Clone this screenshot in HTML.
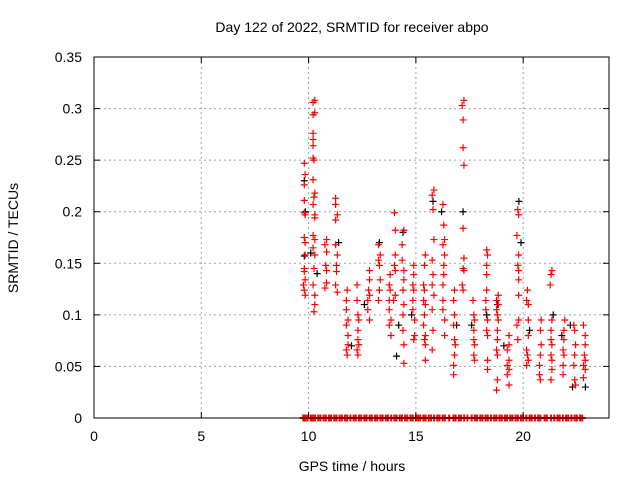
<!DOCTYPE html>
<html><head><meta charset="utf-8"><style>
body{margin:0;background:#fff}
svg{display:block;font-family:"Liberation Sans",sans-serif}
</style></head><body>
<svg id="chart" width="640" height="480" xmlns="http://www.w3.org/2000/svg">
<rect width="640" height="480" fill="#fff"/>
<g id="grid"></g>
<g id="black"></g>
<g id="red"></g>
<g id="axes"></g>
<text x="352" y="32" text-anchor="middle" font-size="14">Day 122 of 2022, SRMTID for receiver abpo</text>
<text x="352" y="471" text-anchor="middle" font-size="14">GPS time / hours</text>
<text transform="translate(18,238) rotate(-90)" text-anchor="middle" font-size="14">SRMTID / TECUs</text>
</svg>
<script>
const xTicks=[0,5,10,15,20];
const yTicks=[0,0.05,0.1,0.15,0.2,0.25,0.3,0.35];
const yTickLabels=["0","0.05","0.1","0.15","0.2","0.25","0.3","0.35"];
const redTimes=[9.8,10.25,10.8,11.3,11.8,12.3,12.8,13.3,13.8,14.0,14.4,14.9,15.4,15.8,16.3,16.8,17.2,17.7,18.3,18.8,19.3,19.75,20.2,20.8,21.3,21.9,22.4,22.85];
const redValues=[
[.247,.236,.226,.211,.199,.197,.175,.170,.158,.145,.142,.134,.129,.124,.119],
[.308,.306,.296,.294,.276,.270,.264,.252,.250,.231,.218,.214,.207,.197,.194,.177,.173,.165,.158,.145,.129,.119,.110,.103],
[.173,.168,.161,.148,.143,.131,.126],
[.213,.207,.197,.192,.168,.158,.148,.142,.129,.122],
[.124,.114,.105,.095,.090,.080,.071,.066,.061],
[.129,.114,.100,.095,.085,.076,.071,.066,.061],
[.143,.134,.124,.119,.114,.105,.095],
[.168,.158,.153,.148,.134,.124,.114],
[.139,.129,.124,.114,.105,.095,.090,.080],
[.199,.182,.158,.148,.143,.119,.114],
[.182,.168,.153,.143,.134,.124,.110,.100,.085,.071,.053],
[.148,.139,.129,.124,.114,.105,.095,.080,.076],
[.158,.148,.129,.124,.114,.110,.100,.090,.080,.076,.071,.056],
[.221,.216,.202,.173,.153,.139,.129,.119,.105,.085,.066],
[.207,.187,.173,.168,.158,.148,.139,.129,.114,.105,.095,.080],
[.124,.114,.100,.090,.076,.071,.061,.051,.042],
[.308,.303,.289,.262,.245,.184,.155,.145,.143,.129,.124],
[.114,.100,.095,.085,.076,.071,.061,.056],
[.163,.158,.148,.139,.124,.114,.105,.095,.085,.080,.056,.047],
[.119,.114,.110,.105,.100,.095,.085,.076,.066,.061,.037,.027],
[.080,.071,.066,.056,.051,.047,.042,.032],
[.202,.197,.177,.158,.148,.143,.134,.119,.095,.090,.076],
[.124,.114,.110,.095,.080,.066,.061,.056,.051],
[.095,.085,.071,.061,.051,.042,.037],
[.143,.139,.129,.095,.085,.076,.071,.061,.056,.047,.037],
[.095,.085,.076,.066,.061,.051,.042],
[.090,.085,.071,.061,.051,.037,.032],
[.090,.080,.071,.061,.056,.051,.047,.039]];
const blackTimes=[9.8,9.85,9.8,10.1,10.4,11.4,12.0,12.6,13.3,14.1,14.2,14.4,14.8,15.8,16.2,16.9,17.2,17.6,18.3,18.8,19.1,19.8,19.9,20.3,21.4,21.8,22.3,22.2,22.9];
const blackValues=[.23,.2,.157,.16,.14,.17,.07,.11,.17,.06,.09,.18,.1,.21,.2,.09,.2,.09,.1,.11,.07,.21,.17,.085,.1,.08,.03,.09,.03];
const zeroTimes=[9.75,9.8,9.85,9.95,10.1,10.15,10.2,10.3,10.45,10.55,10.7,10.8,10.95,11.05,11.2,11.3,11.45,11.55,11.7,11.8,11.95,12.1,12.2,12.35,12.45,12.6,12.7,12.85,12.95,13.1,13.2,13.35,13.45,13.6,13.7,13.85,14.0,14.1,14.25,14.35,14.5,14.6,14.75,14.85,15.0,15.1,15.2,15.35,15.45,15.6,15.7,15.85,16.0,16.1,16.25,16.35,16.55,16.75,16.85,17.0,17.1,17.25,17.4,17.6,17.75,17.85,18.0,18.1,18.25,18.35,18.5,18.65,18.75,18.9,19.0,19.15,19.25,19.4,19.5,19.65,19.75,19.9,20.0,20.15,20.3,20.4,20.55,20.7,20.8,21.0,21.1,21.3,21.45,21.6,21.7,21.85,22.0,22.1,22.25,22.4,22.5,22.65,22.75];
const X0=94,X1=609,Y0=418,Y1=57,XMAX=24,YMAX=0.35;
function sx(t){return X0+(X1-X0)*t/XMAX;}
function sy(v){return Y0-(Y0-Y1)*v/YMAX;}
const NS="http://www.w3.org/2000/svg";
function mk(tag,attrs,parent){const e=document.createElementNS(NS,tag);for(const k in attrs)e.setAttribute(k,attrs[k]);parent.appendChild(e);return e;}
const grid=document.getElementById('grid'),axes=document.getElementById('axes');
xTicks.forEach(t=>{
 const x=sx(t);
 if(t>0){const g=mk('line',{x1:x,y1:Y1,x2:x,y2:Y0,stroke:'#a0a0a0','stroke-dasharray':'2,3'},grid);
 
 }
 mk('line',{x1:x,y1:Y0,x2:x,y2:Y0-6,stroke:'#000'},axes);
 mk('line',{x1:x,y1:Y1,x2:x,y2:Y1+6,stroke:'#000'},axes);
 const l=mk('text',{x:x,y:Y0+23,'text-anchor':'middle','font-size':'14'},axes);
 l.textContent=String(t);
 
 
});
yTicks.forEach((v,i)=>{
 const y=sy(v);
 if(v>0&&v<YMAX){const g=mk('line',{x1:X0,y1:y,x2:X1,y2:y,stroke:'#a0a0a0','stroke-dasharray':'2,3'},grid);
 
 }
 mk('line',{x1:X0,y1:y,x2:X0+6,y2:y,stroke:'#000'},axes);
 mk('line',{x1:X1,y1:y,x2:X1-6,y2:y,stroke:'#000'},axes);
 const l=mk('text',{x:X0-12,y:y+5,'text-anchor':'end','font-size':'14'},axes);
 l.textContent=yTickLabels[i];
 
 
});
const fr=mk('rect',{x:X0,y:Y1,width:X1-X0,height:Y0-Y1,fill:'none',stroke:'#000'},axes);


function plus(g,t,v,c,name,w){
 const x=sx(t),y=sy(v);
 const p=mk('path',{d:`M${x-3.5},${y}H${x+3.5}M${x},${y-3.5}V${y+3.5}`,stroke:c,'stroke-width':w||'1.2',fill:'none'},g);
 
 
}
const bg=document.getElementById('black'),rg=document.getElementById('red');
blackTimes.forEach((t,i)=>plus(bg,t,blackValues[i],'#000','black-point'));
redTimes.forEach((t,i)=>redValues[i].forEach(v=>plus(rg,t+((v*1000)%3-1)*0.04,v,'#f00','red-point')));
zeroTimes.forEach(t=>plus(rg,t,0,'#f00','zero-point','2'));
</script>
</body></html>
